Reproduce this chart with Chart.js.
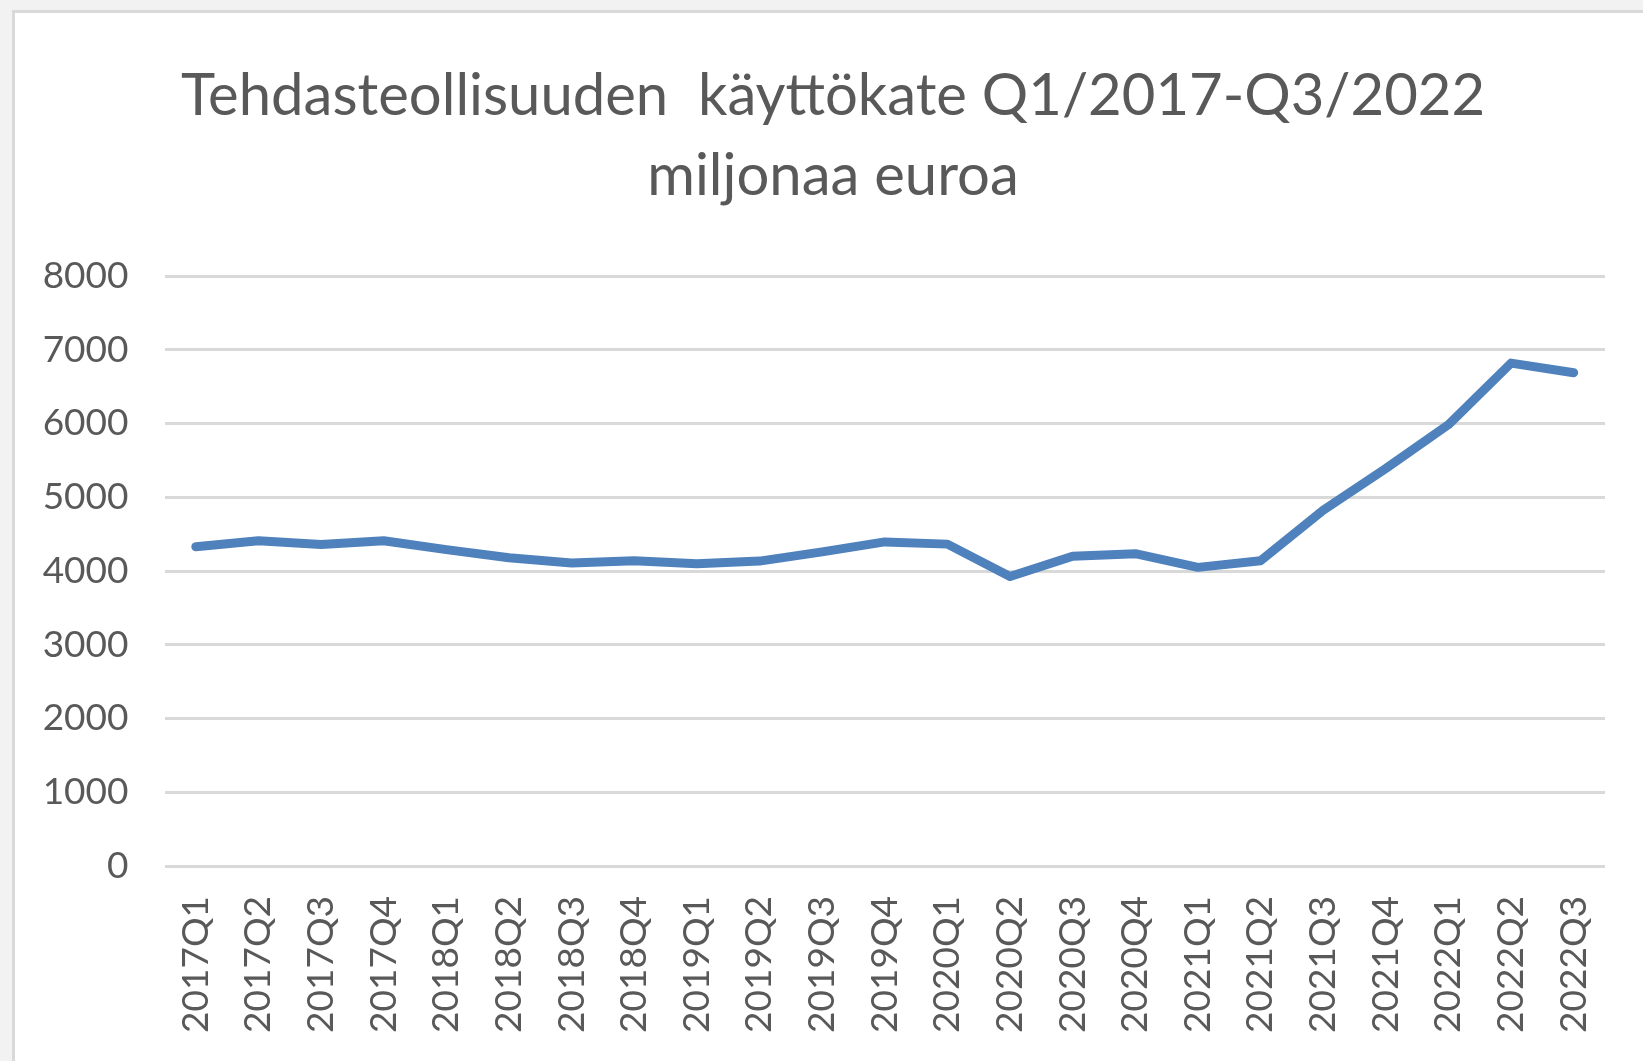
<!DOCTYPE html>
<html>
<head>
<meta charset="utf-8">
<script src="https://cdn.jsdelivr.net/npm/chart.js@4/dist/chart.umd.min.js"></script>
<style>
  html, body { margin: 0; padding: 0; background: #f2f2f2; width: 1643px; height: 1061px; overflow: hidden; }
  #box { position: absolute; left: 12px; top: 10px; width: 1628px; height: 1048px;
         border-left: 3px solid #d9d9d9; border-top: 3px solid #d9d9d9; background: #ffffff; }
  canvas { display: block; }
</style>
</head>
<body>
<div id="box"><canvas id="c" width="1628" height="1048" style="width:1628px;height:1048px"></canvas></div>
<script>
const titleLines = ['Tehdasteollisuuden  käyttökate Q1/2017-Q3/2022', 'miljonaa euroa'];
const categories = ['2017Q1','2017Q2','2017Q3','2017Q4','2018Q1','2018Q2','2018Q3','2018Q4',
  '2019Q1','2019Q2','2019Q3','2019Q4','2020Q1','2020Q2','2020Q3','2020Q4',
  '2021Q1','2021Q2','2021Q3','2021Q4','2022Q1','2022Q2','2022Q3'];
const values = [4330, 4410, 4360, 4410, 4290, 4180, 4110, 4140,
  4100, 4135, 4260, 4395, 4365, 3925, 4200, 4235,
  4050, 4140, 4825, 5390, 5985, 6820, 6690];
const yMin = 0, yMax = 8000, yStep = 1000;

const textColor = '#595959';
const gridColor = '#d9d9d9';

// shifts the centred title slightly right, like the original's placement
const titleShift = {
  id: 'titleShift',
  afterLayout(chart) {
    const t = chart.titleBlock;
    if (t) { t.left += 23; t.right += 23; }
  }
};

new Chart(document.getElementById('c'), {
  type: 'line',
  data: {
    labels: categories,
    datasets: [{
      data: values,
      borderColor: '#4f81bd',
      backgroundColor: '#4f81bd',
      borderWidth: 9,
      borderCapStyle: 'round',
      borderJoinStyle: 'round',
      pointRadius: 0,
      tension: 0,
      fill: false
    }]
  },
  plugins: [titleShift],
  options: {
    responsive: false,
    animation: false,
    layout: { padding: { left: 0, right: 38, top: 0, bottom: 0 } },
    plugins: {
      legend: { display: false },
      tooltip: { enabled: false },
      title: {
        display: true,
        text: titleLines,
        color: textColor,
        font: { family: 'Lato', size: 58, weight: 'normal', lineHeight: 1.38 },
        padding: { top: 43, bottom: 60 }
      }
    },
    scales: {
      x: {
        offset: true,
        grid: { display: false, drawTicks: false },
        border: { display: false },
        ticks: {
          color: textColor,
          font: { family: 'Lato', size: 37 },
          minRotation: 90,
          maxRotation: 90,
          autoSkip: false,
          padding: 30
        },
        afterFit: (s) => { s.height = 195; s.paddingLeft = 0; s.paddingRight = 0; }
      },
      y: {
        min: yMin,
        max: yMax,
        grid: { color: gridColor, lineWidth: 3, drawTicks: false },
        border: { display: false },
        ticks: {
          stepSize: yStep,
          color: textColor,
          font: { family: 'Lato', size: 37 },
          padding: 36,
          callback: (v) => String(v)
        },
        afterFit: (s) => { s.width = 149.5; }
      }
    }
  }
});
</script>
</body>
</html>
